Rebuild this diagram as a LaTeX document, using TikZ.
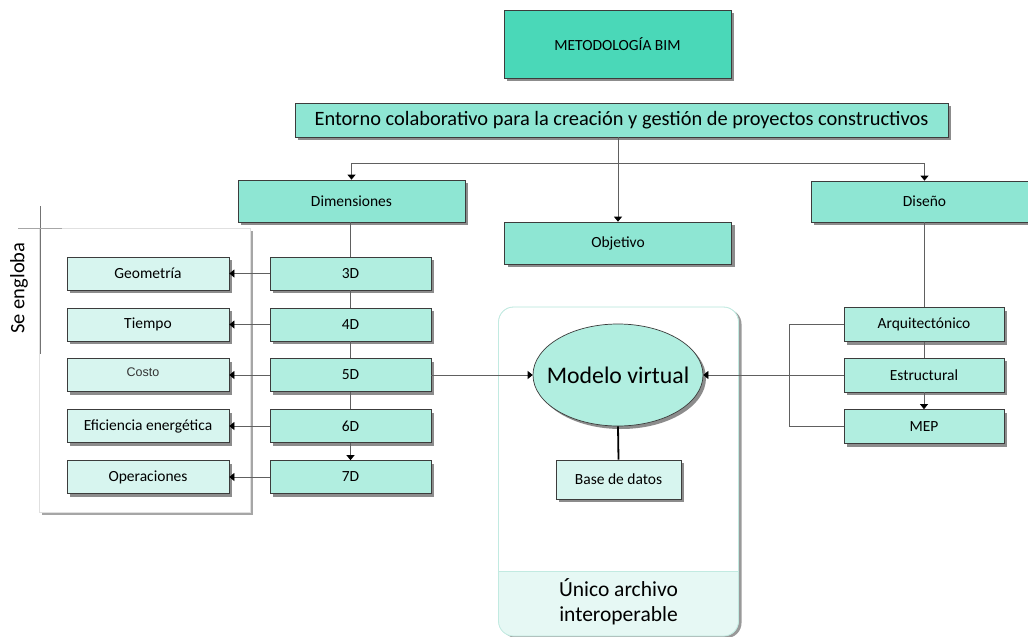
\documentclass[tikz,border=0pt]{standalone}
\usepackage{fontspec}
\setmainfont{Carlito}
\newfontfamily\arialf{Liberation Sans}
\usetikzlibrary{arrows.meta,shadows,shapes.geometric}
\definecolor{cA}{HTML}{4AD8B8}
\definecolor{cB}{HTML}{8EE6D3}
\definecolor{cC}{HTML}{B1EEE0}
\definecolor{cD}{HTML}{D7F5EF}
\definecolor{cE}{HTML}{E6F8F4}
\definecolor{edge}{HTML}{3C3C3C}
\definecolor{ln}{HTML}{606060}
\definecolor{contb}{HTML}{C2EAE1}
\begin{document}
\begin{tikzpicture}[x=1pt,y=-1pt,
  shd/.style={drop shadow={shadow xshift=3pt,shadow yshift=-3pt,fill=black!45,opacity=1}},
  bx/.style={draw=edge, line width=0.7pt, inner sep=0pt, shd, font=\fontsize{15.5}{17}\selectfont},
  sz/.style 2 args={minimum width=#1pt, minimum height=#2pt},
  con/.style={draw=ln, line width=0.7pt},
  arr/.style={con, -{Triangle[length=5pt,width=8pt,fill=black,color=black]}},
]
\useasboundingbox (0,0) rectangle (1028,637);

% "Se engloba" frame
\node[draw=black!12, fill=white, sz={211}{284}, inner sep=0pt,
  drop shadow={shadow xshift=2.5pt,shadow yshift=-2.5pt,fill=black!35,opacity=1}] (eng) at (144.5,370) {};
\draw[draw=black!55, line width=0.7pt] (40,206) -- (40,354);
\draw[draw=black!35, line width=0.9pt] (18,228) -- (62,228);
\node[rotate=90, font=\fontsize{20.5}{22}\selectfont] (seg) at (19,288) {Se engloba};

% container
\node[draw=contb, fill=white, rounded corners=15pt, sz={240}{329}, inner sep=0pt,
  drop shadow={shadow xshift=3pt,shadow yshift=-2pt,fill=black!40,opacity=1}] (cont) at (618.5,471.5) {};
\begin{scope}
\clip[rounded corners=15pt] (498.5,307) rectangle (738.5,636);
\fill[cE] (498.5,571) rectangle (738.5,636);
\end{scope}
\draw[contb, line width=0.6pt] (498.5,571) -- (738.5,571);
\draw[contb, line width=0.8pt, rounded corners=15pt] (498.5,307) rectangle (738.5,636);
\node[align=center, font=\fontsize{21.5}{25}\selectfont] (unico) at (618.5,602) {Único archivo\\interoperable};

% top
\node[bx, fill=cA, sz={227}{68}, font=\fontsize{15.5}{17}\selectfont] (met) at (617.5,44) {METODOLOGÍA BIM};
\node[bx, fill=cB, sz={653}{34}, font=\fontsize{20.4}{23}\selectfont] (ent) at (621.5,120) {Entorno colaborativo para la creación y gestión de proyectos constructivos};
\node[bx, fill=cB, sz={227}{42}] (dim) at (351.5,201) {Dimensiones};
\node[bx, fill=cB, sz={227}{41}] (dis) at (924.5,201.5) {Diseño};
\node[bx, fill=cB, sz={227}{42}] (obj) at (618,243) {Objetivo};

% left boxes
\node[bx, fill=cD, sz={162}{33}] (geo) at (148,273.5) {Geometría};
\node[bx, fill=cD, sz={162}{33}] (tie) at (148,324.5) {Tiempo};
\node[bx, fill=cD, sz={162}{33}] (cos) at (148,375) {};
\node[font=\arialf\fontsize{12.5}{14}\selectfont, text=black!80, inner sep=0pt] (costxt) at (143,372) {Costo};
\node[bx, fill=cD, sz={162}{33}] (efi) at (148,426) {Eficiencia energética};
\node[bx, fill=cD, sz={162}{33}] (ope) at (148,477) {Operaciones};

% D boxes
\node[bx, fill=cC, sz={161}{33}] (d3) at (350.5,273.5) {3D};
\node[bx, fill=cC, sz={161}{33}] (d4) at (350.5,324.5) {4D};
\node[bx, fill=cC, sz={161}{33}] (d5) at (350.5,375) {5D};
\node[bx, fill=cC, sz={161}{33}] (d6) at (350.5,426) {6D};
\node[bx, fill=cC, sz={161}{33}] (d7) at (350.5,477) {7D};

% right boxes
\node[bx, fill=cC, sz={160}{34}] (arq) at (924,324.5) {Arquitectónico};
\node[bx, fill=cC, sz={160}{34}] (est) at (924,375) {Estructural};
\node[bx, fill=cC, sz={160}{34}] (mep) at (924,426.5) {MEP};

% centre
\node[ellipse, draw=edge, line width=0.7pt, fill=cC, minimum width=170pt, minimum height=102pt, inner sep=0pt, shd] (mod) at (618,375) {};
\node[font=\fontsize{23.8}{26}\selectfont, inner sep=0pt] (modtxt) at (618,375) {Modelo virtual};
\node[bx, fill=cD, sz={125}{39}, font=\fontsize{15.5}{17}\selectfont] (bd) at (618.5,479.5) {Base de datos};

% connectors
\coordinate (jn) at (618,163);
\draw[arr] (ent.south -| obj.north) -- (obj.north);
\draw[arr] (jn) -| (dim.north);
\draw[arr] (jn) -| (dis.north);

\draw[con] (dim.south -| d3.north) -- (d3.north);
\draw[con] (d3) -- (d4);
\draw[con] (d4) -- (d5);
\draw[con] (d5) -- (d6);
\draw[arr] (d6.south) -- (d7.north);

\draw[arr] (d3.west) -- (geo.east);
\draw[arr] (d4.west) -- (tie.east);
\draw[arr] (d5.west) -- (cos.east);
\draw[arr] (d6.west) -- (efi.east);
\draw[arr] (d7.west) -- (ope.east);

\draw[arr] (d5.east) -- (mod.west);
\draw[arr] (est.west) -- (mod.east);

\draw[con] (dis.south -| arq.north) -- (arq.north);
\draw[con] (arq.south) -- (est.north);
\draw[arr] (est.south) -- (mep.north);
\draw[con] (arq.west) -- ++(-54,0) |- (mep.west);

\draw[line width=1.8pt] (mod.south) -- (bd.north);
\end{tikzpicture}
\end{document}
